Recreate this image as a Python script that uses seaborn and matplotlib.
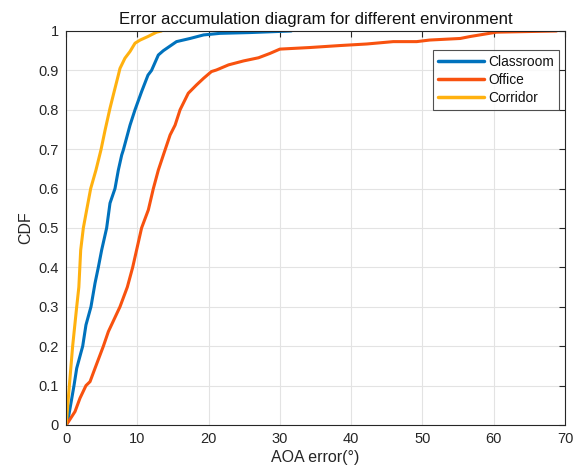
import matplotlib
matplotlib.use("Agg")
import matplotlib.pyplot as plt
import seaborn as sns
import pandas as pd

# AOA error (degrees) and cumulative probability for each environment
classroom_err = [0, 0.2, 0.65, 1.12, 1.5, 2.34, 2.8, 3.5, 4.07, 4.53, 5.0, 5.7, 6.17, 6.87,
                 7.34, 7.81, 8.04, 8.98, 9.68, 10.6, 11.5, 12.0, 12.95, 13.65, 15.5, 17.4,
                 19.3, 21.6, 25.8, 31.6]
classroom_cdf = [0, 0.005, 0.051, 0.1, 0.144, 0.2, 0.254, 0.3, 0.36, 0.4, 0.444, 0.5, 0.563, 0.6,
                 0.647, 0.685, 0.698, 0.761, 0.8, 0.846, 0.888, 0.9, 0.939, 0.95, 0.973, 0.981,
                 0.99, 0.994, 0.996, 1.0]

office_err = [0, 0.33, 1.26, 1.96, 2.8, 3.37, 4.07, 5.24, 5.94, 7.57, 8.6, 9.35, 9.9, 10.6,
              11.55, 12.25, 12.95, 13.65, 14.6, 15.3, 16.0, 17.15, 18.3, 19.3, 20.4, 21.1,
              22.8, 24.9, 27.0, 28.6, 30.0, 34.2, 38.4, 42.2, 45.9, 49.2, 51.0, 55.3, 56.7,
              60.4, 68.8]
office_cdf = [0, 0.008, 0.034, 0.068, 0.1, 0.11, 0.144, 0.2, 0.237, 0.3, 0.35, 0.4, 0.444, 0.5,
              0.546, 0.6, 0.647, 0.685, 0.736, 0.761, 0.8, 0.842, 0.863, 0.88, 0.897, 0.901,
              0.914, 0.924, 0.932, 0.943, 0.954, 0.958, 0.963, 0.967, 0.973, 0.973, 0.977,
              0.981, 0.986, 0.997, 1.0]

corridor_err = [0, 0.1, 0.47, 0.93, 1.5, 1.8, 2.06, 2.43, 2.9, 3.46, 4.2, 4.9, 5.5, 6.17,
                6.64, 7.34, 7.57, 8.27, 8.98, 9.68, 10.4, 11.5, 12.7, 13.4]
corridor_cdf = [0, 0.017, 0.1, 0.2, 0.3, 0.35, 0.444, 0.5, 0.546, 0.6, 0.647, 0.698, 0.75, 0.804,
                0.838, 0.888, 0.905, 0.931, 0.948, 0.969, 0.977, 0.986, 0.997, 1.0]

environments = ["Classroom", "Office", "Corridor"]
colors = ["#0072BD", "#F8520F", "#FFB10F"]

x_ticks = list(range(0, 71, 10))
y_ticks = [0, 0.1, 0.2, 0.3, 0.4, 0.5, 0.6, 0.7, 0.8, 0.9, 1]
y_tick_labels = ["0", "0.1", "0.2", "0.3", "0.4", "0.5", "0.6", "0.7", "0.8", "0.9", "1"]

frames = []
for name, err, cdf in [("Classroom", classroom_err, classroom_cdf),
                       ("Office", office_err, office_cdf),
                       ("Corridor", corridor_err, corridor_cdf)]:
    frames.append(pd.DataFrame({"err": err, "cdf": cdf, "env": name}))
df = pd.concat(frames, ignore_index=True)

sns.set_theme(style="white")
plt.rcParams["font.family"] = ["Liberation Sans", "DejaVu Sans"]
edge = "#262626"

fig = plt.figure(figsize=(5.76, 4.73), dpi=100)
ax = fig.add_axes([0.1146, 0.1015, 0.8664, 0.833])

sns.lineplot(data=df, x="err", y="cdf", hue="env", hue_order=environments,
             palette=dict(zip(environments, colors)), sort=False, estimator=None,
             units="env", linewidth=2.2, ax=ax, legend=False)

ax.set_xlim(0, 70)
ax.set_ylim(0, 1)
ax.set_xticks(x_ticks)
ax.set_xticklabels([str(t) for t in x_ticks])
ax.set_yticks(y_ticks)
ax.set_yticklabels(y_tick_labels)
ax.grid(True, color="#e3e3e3", linewidth=0.8)
ax.set_axisbelow(True)
for s in ax.spines.values():
    s.set_color(edge)
    s.set_linewidth(0.8)
ax.tick_params(direction="in", length=4, width=0.8, color=edge, labelcolor=edge,
               labelsize=10.5, top=True, right=True, pad=5)

ax.set_xlabel("AOA error(°)", fontsize=11.5, color=edge, labelpad=3)
ax.set_ylabel("CDF", fontsize=11.5, color=edge, labelpad=4)
ax.set_title("Error accumulation diagram for different environment", fontsize=12.1,
             color="#111111", pad=5)

handles = [plt.Line2D([], [], color=c, linewidth=2.5) for c in colors]
leg = ax.legend(handles, environments, loc="upper right", bbox_to_anchor=(0.988, 0.952),
                fontsize=9.9, handlelength=3.4, frameon=True, fancybox=False,
                borderpad=0.35, labelspacing=0.3, handletextpad=0.3, borderaxespad=0)
leg.get_frame().set_edgecolor(edge)
leg.get_frame().set_linewidth(0.8)
for t in leg.get_texts():
    t.set_color("#111111")

fig.savefig("out.png", dpi=100)
